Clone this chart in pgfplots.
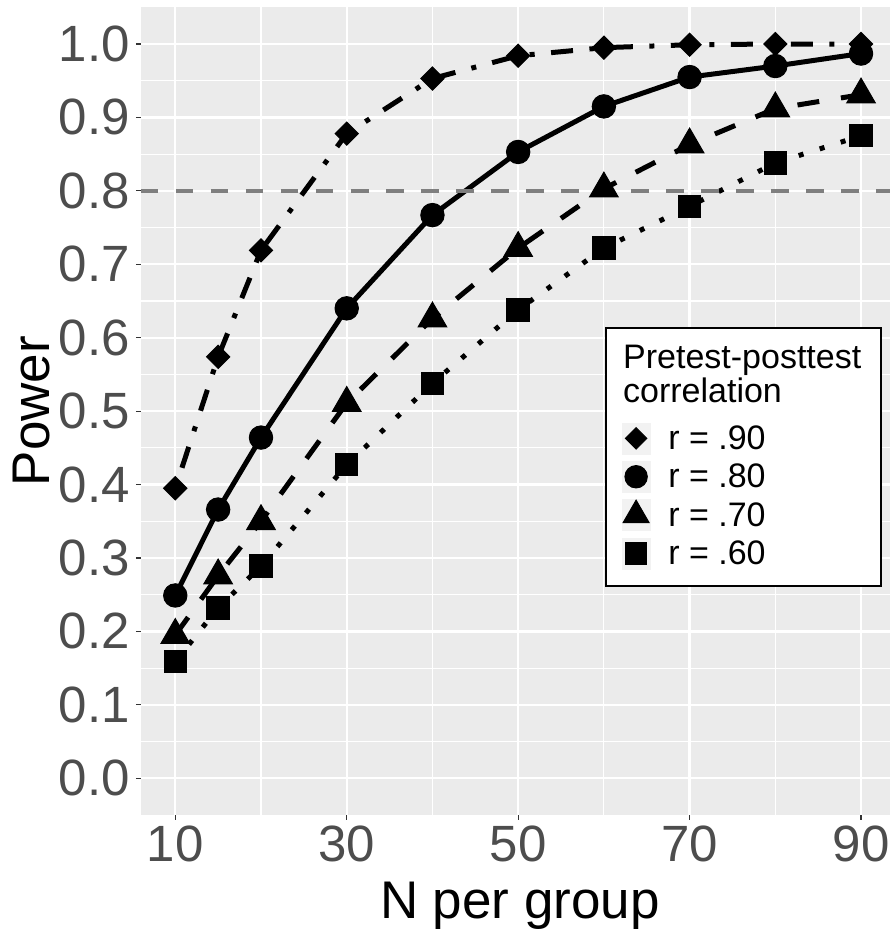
\documentclass[border=0pt]{standalone}
\usepackage{pgfplots}
\pgfplotsset{compat=1.18}
\usepackage{fontspec}
\setmainfont{Liberation Sans}

\definecolor{panel}{HTML}{EBEBEB}
\definecolor{ticklab}{HTML}{4D4D4D}
\definecolor{tickmk}{HTML}{333333}
\definecolor{refline}{HTML}{7F7F7F}
\definecolor{keyfill}{HTML}{F2F2F2}

\pgfplotsset{
  series/.style={black, line width=5pt},
  keybox/.style={only marks, black, legend image code/.code={
      \fill[keyfill] (0pt,-15.5pt) rectangle (28pt,15.5pt);
      \draw[##1] plot coordinates {(14pt,0pt)};}},
}

\begin{document}
\begin{tikzpicture}
\begin{axis}[
  at={(0,0)}, anchor=south west,
  scale only axis, width=749pt, height=807.7pt,
  xmin=6, xmax=93.38, ymin=-0.05, ymax=1.05,
  axis background/.style={fill=panel},
  axis line style={draw=none},
  xtick={10,30,50,70,90},
  minor xtick={20,40,60,80},
  ytick={0,0.1,0.2,0.3,0.4,0.5,0.6,0.7,0.8,0.9,1.0},
  minor ytick={0.05,0.15,0.25,0.35,0.45,0.55,0.65,0.75,0.85,0.95},
  grid=both,
  major grid style={white, line width=2.2pt},
  minor grid style={white, line width=1.1pt},
  tick align=outside, tick pos=left,
  major tick length=5pt, minor tick length=0pt,
  tick style={tickmk, line width=1.1pt},
  /pgf/number format/assume math mode=true,
  ticklabel style={font=\fontsize{51}{51}\selectfont, text=ticklab, inner sep=0pt},
  xticklabel style={anchor=north, yshift=-6pt},
  yticklabel style={anchor=east, xshift=-6pt,
    /pgf/number format/.cd, fixed, fixed zerofill, precision=1},
  xlabel={N per group}, ylabel={Power},
  label style={font=\fontsize{53}{53}\selectfont, inner sep=0pt},
  xlabel style={at={([yshift=-103pt]axis description cs:0.506,0)}, anchor=base},
  ylabel style={at={([xshift=-91pt]axis description cs:0,0.5)}, anchor=base},
  legend style={at={(axis description cs:0.6418,0.486)}, anchor=north west,
    draw=none, fill=none, inner sep=0pt, row sep=7pt, column sep=18pt,
    font=\fontsize{34}{34}\selectfont, nodes={inner sep=0pt}},
  legend cell align=left,
]
% r = .90
\addplot[series, forget plot, mark=square*, mark size=8.2pt,
  mark options={solid, fill=black, line width=1pt, rotate=45},
  dash pattern=on 5pt off 16.5pt on 22pt off 16.5pt] coordinates {
  (10,0.395) (15,0.574) (20,0.719) (30,0.878) (40,0.953)
  (50,0.984) (60,0.995) (70,0.999) (80,1.000) (90,1.000)};
% r = .80
\addplot[series, forget plot, mark=*, mark size=11.7pt,
  mark options={solid, fill=black, line width=1pt}] coordinates {
  (10,0.249) (15,0.366) (20,0.464) (30,0.640) (40,0.767)
  (50,0.853) (60,0.915) (70,0.955) (80,0.970) (90,0.987)};
% r = .70
\addplot[series, forget plot, mark=triangle*, mark size=16.5pt,
  mark options={solid, fill=black, line width=1pt},
  dash pattern=on 22pt off 22pt] coordinates {
  (10,0.195) (15,0.276) (20,0.350) (30,0.511) (40,0.626)
  (50,0.722) (60,0.803) (70,0.863) (80,0.912) (90,0.931)};
% r = .60
\addplot[series, forget plot, mark=square*, mark size=11.2pt,
  mark options={solid, fill=black, line width=1pt},
  dash pattern=on 5pt off 17pt] coordinates {
  (10,0.159) (15,0.232) (20,0.289) (30,0.427) (40,0.538)
  (50,0.638) (60,0.722) (70,0.779) (80,0.838) (90,0.875)};
% target power
\addplot[forget plot, refline, line width=4.3pt, dash pattern=on 17.5pt off 17.5pt]
  coordinates {(6,0.8) (93.38,0.8)};

% legend frame and title
\draw[black, line width=2pt, fill=white]
  (rel axis cs:0.6208,0.2835) rectangle (rel axis cs:0.9880,0.6029);
\node[anchor=base west, inner sep=0pt, font=\fontsize{34}{34}\selectfont]
  at (rel axis cs:0.6435,0.5522) {Pretest-posttest};
\node[anchor=base west, inner sep=0pt, font=\fontsize{34}{34}\selectfont]
  at (rel axis cs:0.6435,0.5101) {correlation};

\addlegendimage{keybox, mark=square*, mark size=7.6pt, mark options={line width=1pt, rotate=45}}
\addlegendentry{r = .90}
\addlegendimage{keybox, mark=*, mark size=11.2pt, mark options={line width=1pt}}
\addlegendentry{r = .80}
\addlegendimage{keybox, mark=triangle*, mark size=15pt, mark options={line width=1pt}}
\addlegendentry{r = .70}
\addlegendimage{keybox, mark=square*, mark size=10.8pt, mark options={line width=1pt}}
\addlegendentry{r = .60}
\end{axis}
\pgfresetboundingbox
\path[use as bounding box] (-141pt,-114pt) rectangle (749pt,815pt);
\end{tikzpicture}
\end{document}
